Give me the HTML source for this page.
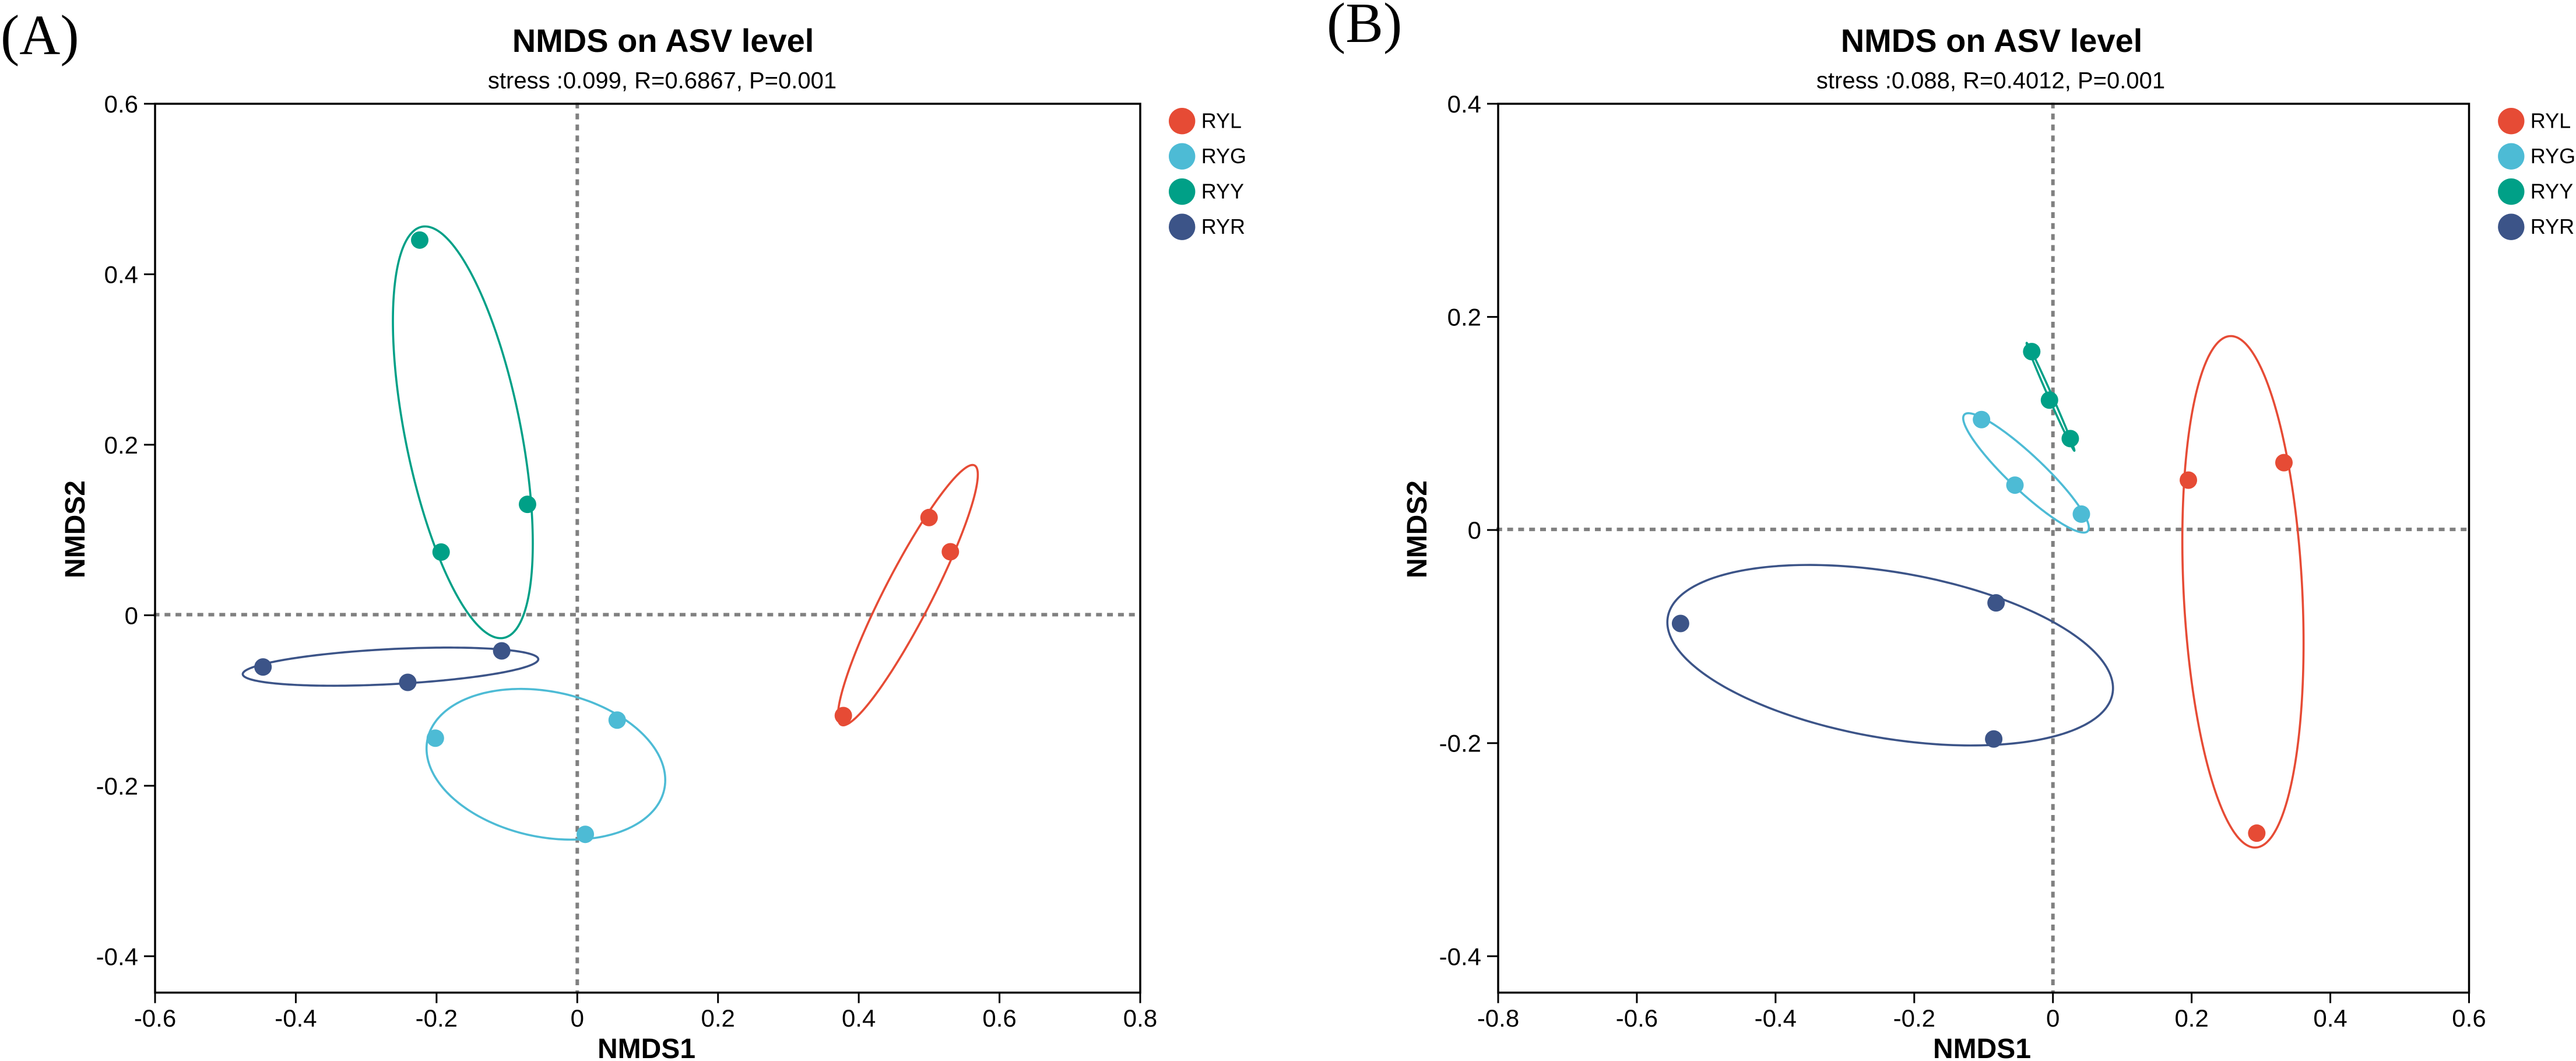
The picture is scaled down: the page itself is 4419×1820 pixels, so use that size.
<!DOCTYPE html>
<html lang="en">
<head>
<meta charset="utf-8">
<title>NMDS on ASV level</title>
<style>
  html, body { margin: 0; padding: 0; background: #ffffff; }
  svg { display: block; }
  text { font-family: "Liberation Sans", Arial, sans-serif; fill: #000000; }
  .panel-letter { font-family: "Liberation Serif", "Times New Roman", serif; font-size: 97px; }
</style>
</head>
<body>
<svg id="figure" xmlns="http://www.w3.org/2000/svg" width="4419" height="1820" viewBox="0 0 4419 1820">
  <rect x="0" y="0" width="4419" height="1820" fill="#ffffff"/>
  <text class="panel-letter" x="1" y="93">(A)</text>
  <text class="panel-letter" x="2276" y="72">(B)</text>
  <text x="1137.5" y="89" font-size="56" font-weight="bold" text-anchor="middle">NMDS on ASV level</text>
  <text x="1136" y="151.5" font-size="40" text-anchor="middle">stress :0.099, R=0.6867, P=0.001</text>
  <text x="3416.5" y="89" font-size="56" font-weight="bold" text-anchor="middle">NMDS on ASV level</text>
  <text x="3415" y="151.5" font-size="40" text-anchor="middle">stress :0.088, R=0.4012, P=0.001</text>
  <text x="1109" y="1815" font-size="48" font-weight="bold" text-anchor="middle">NMDS1</text>
  <text x="3400" y="1815" font-size="48" font-weight="bold" text-anchor="middle">NMDS1</text>
  <text transform="translate(145 908) rotate(-90)" font-size="48" font-weight="bold" text-anchor="middle">NMDS2</text>
  <text transform="translate(2447 908) rotate(-90)" font-size="48" font-weight="bold" text-anchor="middle">NMDS2</text>
  <g id="panel-a"></g>
  <g id="panel-b"></g>
</svg>
<script>
// Shared categories
const groupNames = ['RYL', 'RYG', 'RYY', 'RYR'];
const groupColors = ['#E64B35', '#4DBBD5', '#00A087', '#3C5488'];

// Panel A tick values
const aXTicks = [-0.6, -0.4, -0.2, 0, 0.2, 0.4, 0.6, 0.8];
const aYTicks = [-0.4, -0.2, 0, 0.2, 0.4, 0.6];

// Panel A sample coordinates (one row per group)
const aPointsX = [
  [0.4999, 0.5302, 0.3781],
  [-0.2017, 0.0567, 0.0114],
  [-0.2239, -0.0707, -0.1935],
  [-0.4466, -0.1074, -0.2409]
];
const aPointsY = [
  [0.1146, 0.0745, -0.1177],
  [-0.1442, -0.1230, -0.2570],
  [0.4401, 0.1301, 0.0741],
  [-0.0607, -0.0418, -0.0787]
];

// Panel A ellipses: centre, half extents, x/y correlation, per group
const aEllipseCx = [0.4698, -0.0446, -0.1626, -0.2654];
const aEllipseCy = [0.0236, -0.1748, 0.2146, -0.0603];
const aEllipseHx = [0.0994, 0.1696, 0.0994, 0.2100];
const aEllipseHy = [0.1527, 0.0884, 0.2415, 0.02237];
const aEllipseRho = [0.925, -0.21, -0.54, 0.39];

// Panel B tick values
const bXTicks = [-0.8, -0.6, -0.4, -0.2, 0, 0.2, 0.4, 0.6];
const bYTicks = [-0.4, -0.2, 0, 0.2, 0.4];

// Panel B sample coordinates
const bPointsX = [
  [0.1953, 0.3331, 0.2939],
  [-0.1030, -0.0548, 0.0410],
  [-0.0306, -0.0050, 0.0250],
  [-0.5370, -0.0820, -0.0854]
];
const bPointsY = [
  [0.0468, 0.0632, -0.2845],
  [0.1036, 0.0421, 0.0149],
  [0.1674, 0.1219, 0.0858],
  [-0.0877, -0.0684, -0.1961]
];

// Panel B ellipses
const bEllipseCx = [0.2740, -0.0388, -0.0035, -0.2347];
const bEllipseCy = [-0.0580, 0.0536, 0.1250, -0.1175];
const bEllipseHx = [0.0874, 0.0906, 0.0345, 0.3213];
const bEllipseHy = [0.2400, 0.0560, 0.0506, 0.0847];
const bEllipseRho = [-0.2, -0.917, -0.996, -0.365];

const SVG_NS = 'http://www.w3.org/2000/svg';

function make(parent, tag, props) {
  const el = document.createElementNS(SVG_NS, tag);
  for (const k in props) el.setAttribute(k, props[k]);
  parent.appendChild(el);
  return el;
}

function drawPanel(cfg) {
  const root = document.getElementById(cfg.id);
  const xScale = v => cfg.left + (v - cfg.xMin) / (cfg.xMax - cfg.xMin) * (cfg.right - cfg.left);
  const yScale = v => cfg.top + (cfg.yMax - v) / (cfg.yMax - cfg.yTickMin) * (cfg.yTickPx - cfg.top);
  const AXIS = 3.5;

  // zero reference lines
  const hZero = make(root, 'line', {x1: cfg.hDashStart, x2: cfg.right, y1: yScale(0) - 1, y2: yScale(0) - 1, stroke: '#808080', 'stroke-width': 6, 'stroke-dasharray': '10 8.8'});
  
  
  const vZero = make(root, 'line', {x1: xScale(0), x2: xScale(0), y1: 176, y2: cfg.bottom, stroke: '#808080', 'stroke-width': 6, 'stroke-dasharray': '10 8.8'});
  
  

  // plot frame
  const frame = make(root, 'rect', {x: cfg.left, y: cfg.top, width: cfg.right - cfg.left, height: cfg.bottom - cfg.top, fill: 'none', stroke: '#000000', 'stroke-width': AXIS});
  
  

  // x ticks and labels
  cfg.xTicks.forEach(v => {
    const tick = make(root, 'line', {x1: xScale(v), x2: xScale(v), y1: cfg.bottom, y2: cfg.bottom + 18, stroke: '#000000', 'stroke-width': 3});
    
    
    const label = make(root, 'text', {x: xScale(v), y: 1761, 'font-size': 42, 'text-anchor': 'middle'});
    label.textContent = String(v);
    
    
  });

  // y ticks and labels
  cfg.yTicks.forEach(v => {
    const tick = make(root, 'line', {x1: cfg.left - 19, x2: cfg.left, y1: yScale(v), y2: yScale(v), stroke: '#000000', 'stroke-width': 3});
    
    
    const label = make(root, 'text', {x: cfg.left - 29, y: yScale(v) + 15, 'font-size': 42, 'text-anchor': 'end'});
    label.textContent = String(v);
    
    
  });

  // group ellipses
  groupNames.forEach((name, g) => {
    const phi = Math.acos(cfg.rho[g]);
    let d = '';
    for (let i = 0; i < 240; i++) {
      const t = i / 240 * 2 * Math.PI;
      const vx = cfg.cx[g] + cfg.hx[g] * Math.cos(t);
      const vy = cfg.cy[g] + cfg.hy[g] * Math.cos(t - phi);
      d += (i ? 'L' : 'M') + xScale(vx).toFixed(2) + ' ' + yScale(vy).toFixed(2);
    }
    const ellipse = make(root, 'path', {d: d + 'Z', fill: 'none', stroke: groupColors[g], 'stroke-width': 3.6});
    
    
  });

  // sample points
  groupNames.forEach((name, g) => {
    cfg.px[g].forEach((vx, i) => {
      const pt = make(root, 'circle', {cx: xScale(vx), cy: yScale(cfg.py[g][i]), r: 15, fill: groupColors[g]});
      
      
    });
  });

  // legend
  groupNames.forEach((name, g) => {
    const dot = make(root, 'circle', {cx: cfg.legendX, cy: 207.7 + g * 60.5, r: 22.7, fill: groupColors[g]});
    
    
    const txt = make(root, 'text', {x: cfg.legendX + 33, y: 219.5 + g * 60.5, 'font-size': 36});
    txt.textContent = name;
    
    
  });
}

drawPanel({
  id: 'panel-a', left: 266, right: 1956, top: 178, bottom: 1702.7,
  xMin: -0.6, xMax: 0.8, yMax: 0.6, yTickMin: -0.4, yTickPx: 1640.3, hDashStart: 263.5,
  xTicks: aXTicks, yTicks: aYTicks, px: aPointsX, py: aPointsY,
  cx: aEllipseCx, cy: aEllipseCy, hx: aEllipseHx, hy: aEllipseHy, rho: aEllipseRho,
  legendX: 2027.7
});
drawPanel({
  id: 'panel-b', left: 2570, right: 4235.5, top: 178, bottom: 1702.7,
  xMin: -0.8, xMax: 0.6, yMax: 0.4, yTickMin: -0.4, yTickPx: 1640.3, hDashStart: 2566.8,
  xTicks: bXTicks, yTicks: bYTicks, px: bPointsX, py: bPointsY,
  cx: bEllipseCx, cy: bEllipseCy, hx: bEllipseHx, hy: bEllipseHy, rho: bEllipseRho,
  legendX: 4307.8
});
</script>
</body>
</html>
